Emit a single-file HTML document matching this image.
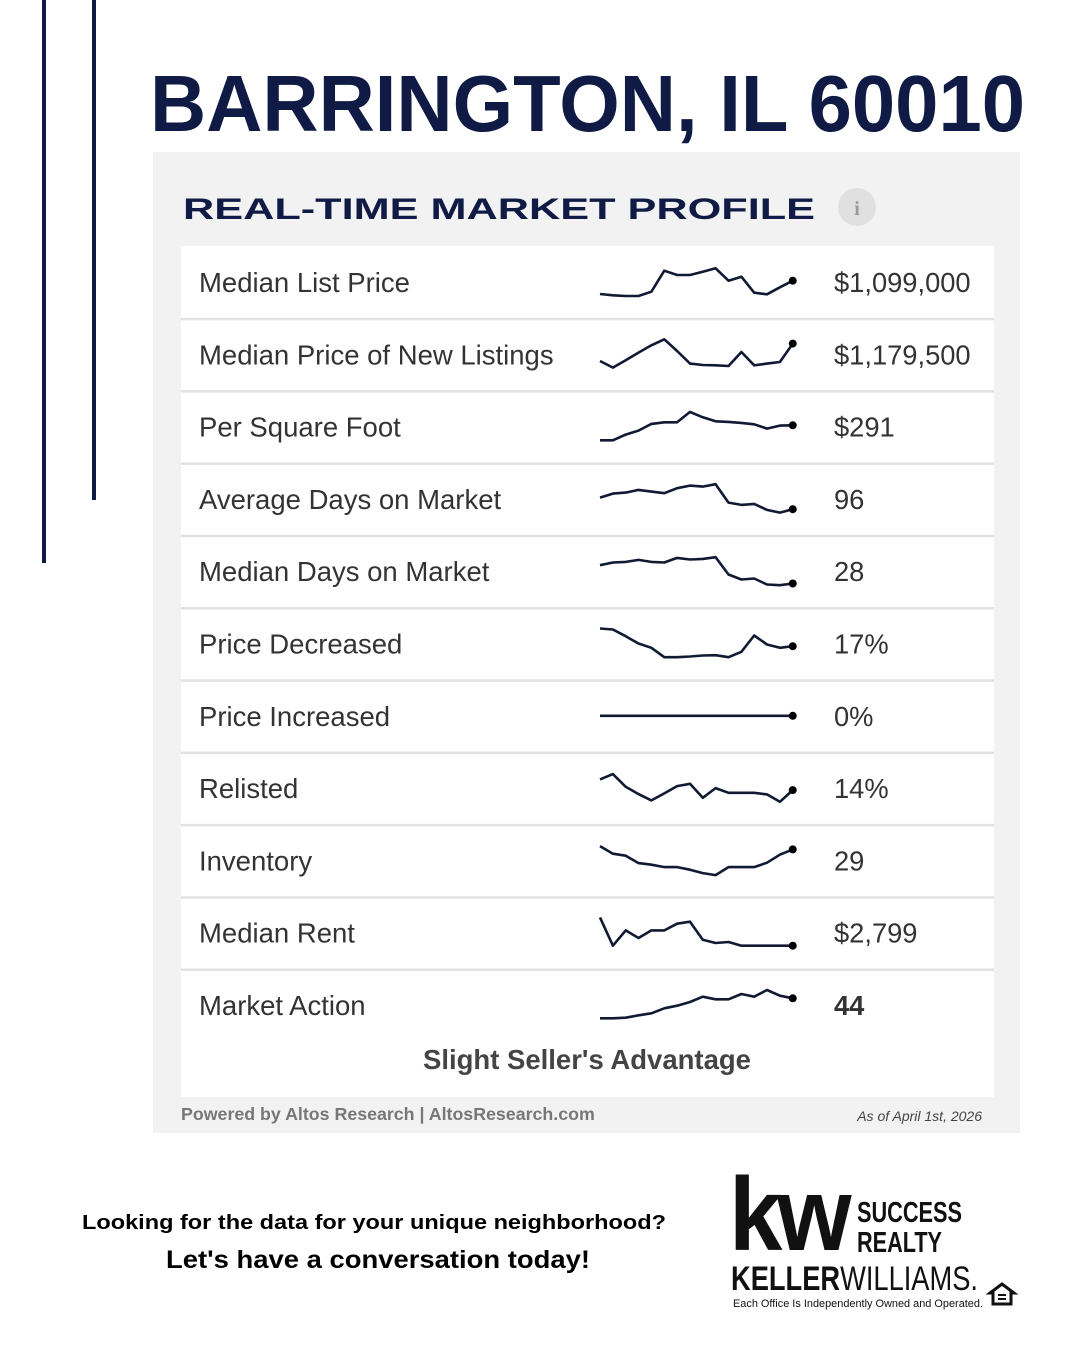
<!DOCTYPE html>
<html><head><meta charset="utf-8"><style>
html,body{margin:0;padding:0;background:#fff;}
svg{display:block;font-family:"Liberation Sans",sans-serif;}
</style></head><body>
<svg id="s" width="1080" height="1350" viewBox="0 0 1080 1350">
<rect x="42" y="0" width="4" height="563" fill="#0f1a45"/>
<rect x="92" y="0" width="4" height="500" fill="#0f1a45"/>
<text x="150" y="131" font-size="80" font-weight="bold" fill="#0f1a45" textLength="875" lengthAdjust="spacingAndGlyphs">BARRINGTON, IL 60010</text>
<rect x="153" y="152" width="867" height="981" fill="#f2f2f2"/>
<text x="183" y="219" font-size="30" font-weight="bold" fill="#0f1a45" textLength="632" lengthAdjust="spacingAndGlyphs">REAL-TIME MARKET PROFILE</text>
<g>
<circle cx="857" cy="207" r="19" fill="#e0e0e0"/>
<text x="857" y="215" font-size="20" font-weight="bold" fill="#999" text-anchor="middle" font-family="Liberation Serif,serif">i</text>
</g>
<rect x="181" y="246" width="813" height="851" fill="#fff"/>
<g id="rows"></g>
<text x="587" y="1069" font-size="27.5" font-weight="bold" fill="#444" text-anchor="middle">Slight Seller's Advantage</text>
<text x="181" y="1120" font-size="17.8" font-weight="bold" fill="#777">Powered by Altos Research | AltosResearch.com</text>
<text x="982" y="1121" font-size="14" font-style="italic" fill="#444" text-anchor="end">As of April 1st, 2026</text>
<text x="374" y="1229" font-size="20" font-weight="bold" fill="#000" text-anchor="middle" textLength="584" lengthAdjust="spacingAndGlyphs">Looking for the data for your unique neighborhood?</text>
<text x="378" y="1268" font-size="25" font-weight="bold" fill="#000" text-anchor="middle" textLength="424" lengthAdjust="spacingAndGlyphs">Let's have a conversation today!</text>
<g>
<text x="729" y="1250" font-size="104" font-weight="bold" fill="#111" textLength="117" lengthAdjust="spacingAndGlyphs" letter-spacing="-6">kw</text>
<text x="857" y="1222" font-size="29" font-weight="bold" fill="#111" textLength="105" lengthAdjust="spacingAndGlyphs">SUCCESS</text>
<text x="857" y="1252" font-size="29" font-weight="bold" fill="#111" textLength="85" lengthAdjust="spacingAndGlyphs">REALTY</text>
<text x="731" y="1290" font-size="34" fill="#111" textLength="247" lengthAdjust="spacingAndGlyphs"><tspan font-weight="bold">KELLER</tspan>WILLIAMS.</text>
<text x="733" y="1307" font-size="11" fill="#111" textLength="250" lengthAdjust="spacingAndGlyphs">Each Office Is Independently Owned and Operated.</text>
<path d="M990 1293 L1002 1284 L1014 1293 L1011 1293 L1011 1304 L993 1304 L993 1293 Z" fill="none" stroke="#111" stroke-width="3"/>
<rect x="998" y="1294" width="8" height="2" fill="#111"/><rect x="998" y="1298" width="8" height="2" fill="#111"/>
</g>
</svg>
<script>
const labels=["Median List Price","Median Price of New Listings","Per Square Foot","Average Days on Market","Median Days on Market","Price Decreased","Price Increased","Relisted","Inventory","Median Rent","Market Action"];
const values=["$1,099,000","$1,179,500","$291","96","28","17%","0%","14%","29","$2,799","44"];
const s1=[2,0.7,0,0,4.3,25.3,21,21,24.3,27.7,15.3,19.3,3.3,1.7,8.7,15.3];
const s2=[7.3,0.7,8,15.7,23,29,17.3,4.7,3.3,3,2.3,16.3,3,4.7,6.3,24.7];
const s3=[0.3,0.3,6,10,16.7,18.3,18.3,28.7,23.3,19.3,18.7,17.7,16.3,12,15,15.3];
const s4=[15.3,19.3,20.3,23,21.3,19.7,24.7,27.3,26.3,28.7,10.3,8,9,3,0.3,3.7];
const s5=[20,22.7,23.3,25.3,23.3,22.7,27.3,25.7,26.3,28,10.7,5.7,6.7,0.7,0,1.7];
const s6=[29,28,21.3,14,9.7,0.3,0.3,1,2,2.3,0.3,5.7,22,13,9.7,11.3];
const s7=[14,14,14,14,14,14,14,14,14,14,14,14,14,14,14,14];
const s8=[22.7,28,15.3,8,1.7,8.7,16,18.3,4.3,14,9.3,9.3,9.3,7.7,0.3,12];
const s9=[28.3,20.7,18.7,11.3,9.7,7.3,7.3,4.7,1.3,-0.7,7.3,7.3,7.3,11.7,19.7,25];
const s10=[29.3,1,16.3,8.7,16.3,16.3,23,25,7,3.7,4.7,1,1,1,1,1];
const s11=[0.7,0.7,1.3,3.7,5.7,10.7,13.3,17,22.3,19.7,19.7,25,22.3,29,23.3,20.7];
const series=[s1,s2,s3,s4,s5,s6,s7,s8,s9,s10,s11];
const NS="http://www.w3.org/2000/svg";
const g=document.getElementById('rows');
const rowTop=247, rowH=72.3;
function xs(i){return 600+i*12.85;}
function ys(r,v){return rowTop+rowH*r+49-v;}
for(let r=0;r<labels.length;r++){
  const cy=rowTop+rowH*r+35;
  if(r<labels.length-1){
    const ln=document.createElementNS(NS,'rect');
    ln.setAttribute('x',181);ln.setAttribute('y',rowTop+rowH*(r+1)-1.5);ln.setAttribute('width',813);ln.setAttribute('height',2.5);ln.setAttribute('fill','#e2e2e2');
    
    
    g.appendChild(ln);
  }
  const t=document.createElementNS(NS,'text');
  t.setAttribute('x',199);t.setAttribute('y',cy+10);t.setAttribute('font-size',27.5);t.setAttribute('fill','#333');
  t.textContent=labels[r];
  
  
  g.appendChild(t);
  const v=document.createElementNS(NS,'text');
  v.setAttribute('x',834);v.setAttribute('y',cy+10);v.setAttribute('font-size',27.3);v.setAttribute('fill','#333');
  if(r===10)v.setAttribute('font-weight','bold');
  v.textContent=values[r];
  
  
  g.appendChild(v);
  const d=series[r].map((val,i)=>(i?'L':'M')+xs(i).toFixed(1)+' '+ys(r,val).toFixed(1)).join(' ');
  const p=document.createElementNS(NS,'path');
  p.setAttribute('d',d);p.setAttribute('fill','none');p.setAttribute('stroke','#111a33');p.setAttribute('stroke-width',2.6);p.setAttribute('stroke-linejoin','round');
  
  
  g.appendChild(p);
  const n=series[r].length-1;
  const c=document.createElementNS(NS,'circle');
  c.setAttribute('cx',xs(n));c.setAttribute('cy',ys(r,series[r][n]));c.setAttribute('r',4);c.setAttribute('fill','#000');
  
  
  g.appendChild(c);
}
</script>
</body></html>
